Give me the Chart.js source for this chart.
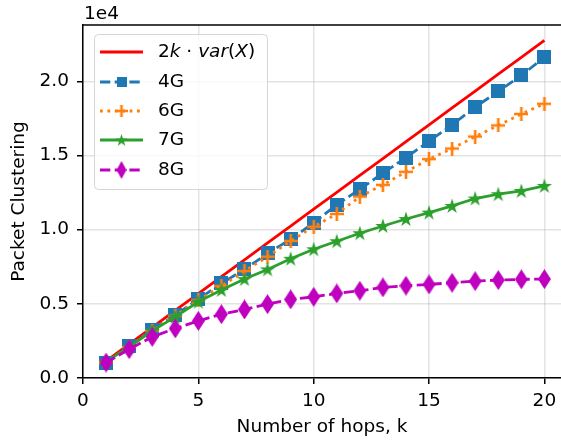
<!DOCTYPE html>
<html>
<head>
<meta charset="utf-8">
<script src="https://cdn.jsdelivr.net/npm/chart.js@4.4.1/dist/chart.umd.min.js"></script>
<style>
  html, body { margin: 0; padding: 0; background: #fff; overflow: hidden; }
</style>
</head>
<body>
<canvas id="chart" width="561" height="444"></canvas>
<script>
// data (y in raw units, axis shows them x1e4)
const hops = [1, 2, 3, 4, 5, 6, 7, 8, 9, 10, 11, 12, 13, 14, 15, 16, 17, 18, 19, 20];
const bound = [1138, 2276, 3414, 4552, 5690, 6828, 7966, 9104, 10242, 11380,
               12518, 13656, 14794, 15932, 17070, 18208, 19346, 20484, 21622, 22760];
const g4 = [1010, 2140, 3240, 4240, 5320, 6380, 7320, 8400, 9350, 10470,
            11670, 12730, 13810, 14860, 15970, 17070, 18270, 19320, 20400, 21620];
const g6 = [1050, 2100, 3200, 4200, 5250, 6200, 7210, 8180, 9240, 10200,
            11060, 12230, 13020, 13900, 14760, 15470, 16280, 17030, 17800, 18490];
const g7 = [1100, 2100, 3180, 4120, 5140, 5930, 6670, 7320, 8040, 8680,
            9220, 9760, 10250, 10720, 11150, 11600, 12100, 12390, 12610, 12950];
const g8 = [1040, 1940, 2770, 3340, 3850, 4300, 4620, 4980, 5300, 5470,
            5700, 5880, 6110, 6220, 6310, 6420, 6530, 6600, 6650, 6670];
const xTicks = [0, 5, 10, 15, 20];
const yTicks = [0, 5000, 10000, 15000, 20000];

const FONT = 'DejaVu Sans';
const FS = 18.5;

// marker images (matplotlib-like shapes)
function marker(w, h, draw) {
    const c = document.createElement('canvas');
    c.width = w; c.height = h;
    draw(c.getContext('2d'), w, h);
    return c;
}
const square = (s, col) => marker(s, s, (ctx) => { ctx.fillStyle = col; ctx.fillRect(0, 0, s, s); });
const plus = (s, col) => marker(s, s, (ctx) => {
    ctx.strokeStyle = col; ctx.lineWidth = 2.6;
    ctx.beginPath();
    ctx.moveTo(s / 2, 0); ctx.lineTo(s / 2, s);
    ctx.moveTo(0, s / 2); ctx.lineTo(s, s / 2);
    ctx.stroke();
});
const star = (s, col) => marker(s, s, (ctx) => {
    const R = s / 2, r = R * 0.382;
    ctx.fillStyle = col;
    ctx.beginPath();
    for (let i = 0; i < 10; i++) {
        const a = -Math.PI / 2 + i * Math.PI / 5;
        const rr = i % 2 ? r : R;
        ctx.lineTo(R + rr * Math.cos(a), R + 0.5 + rr * Math.sin(a));
    }
    ctx.closePath();
    ctx.fill();
});
const diamond = (w, h, col) => marker(w, h, (ctx) => {
    ctx.fillStyle = col;
    ctx.beginPath();
    ctx.moveTo(w / 2, 0); ctx.lineTo(w, h / 2); ctx.lineTo(w / 2, h); ctx.lineTo(0, h / 2);
    ctx.closePath();
    ctx.fill();
});

const BLUE = '#1f77b4', ORANGE = '#ff7f0e', GREEN = '#2ca02c', MAG = '#bf00bf';

const pts = (arr) => hops.map((k, i) => ({ x: k, y: arr[i] }));

const datasets = [
    { label: 'bound', data: pts(bound), borderColor: '#ff0000', borderWidth: 2.8, pointRadius: 0, order: 5 },
    { label: '4G', data: pts(g4), borderColor: BLUE, borderWidth: 2.8, borderDash: [10.3, 4.4],
      pointStyle: square(14, BLUE), pointRadius: 7, order: 4, legendMarker: square(10, BLUE) },
    { label: '6G', data: pts(g6), borderColor: ORANGE, borderWidth: 2.8, borderDash: [2.8, 4.6],
      pointStyle: plus(14, ORANGE), pointRadius: 7, order: 3, legendMarker: plus(12, ORANGE) },
    { label: '7G', data: pts(g7), borderColor: GREEN, borderWidth: 2.8,
      pointStyle: star(16, GREEN), pointRadius: 7, order: 2, legendMarker: star(13, GREEN) },
    { label: '8G', data: pts(g8), borderColor: MAG, borderWidth: 2.8, borderDash: [10.3, 4.4],
      pointStyle: diamond(13, 20, MAG), pointRadius: 7, order: 1, legendMarker: diamond(10, 18, MAG) }
];

// top spine, "1e4" offset label and the legend box
const decor = {
    id: 'decor',
    afterDraw(chart) {
        const { ctx, chartArea: a } = chart;
        ctx.save();
        ctx.strokeStyle = '#000';
        ctx.lineWidth = 1.5;
        ctx.beginPath();
        ctx.moveTo(a.left - 0.75, a.top);
        ctx.lineTo(a.right, a.top);
        ctx.stroke();

        ctx.fillStyle = '#000';
        ctx.font = FS + 'px "' + FONT + '"';
        ctx.textBaseline = 'alphabetic';
        ctx.textAlign = 'left';
        ctx.fillText('1e4', 84, 19);

        // legend
        const bx = 94.5, by = 34.5, bw = 173, bh = 155, rad = 4;
        ctx.beginPath();
        ctx.roundRect(bx, by, bw, bh, rad);
        ctx.fillStyle = 'rgba(255,255,255,0.8)';
        ctx.fill();
        ctx.strokeStyle = '#d6d6d6';
        ctx.lineWidth = 1;
        ctx.stroke();

        const rows = [52, 82, 111, 140, 170];
        chart.data.datasets.forEach((ds, i) => {
            const y = rows[i];
            ctx.strokeStyle = ds.borderColor;
            ctx.lineWidth = ds.borderWidth;
            ctx.setLineDash(ds.borderDash || []);
            ctx.beginPath();
            ctx.moveTo(100, y);
            ctx.lineTo(143, y);
            ctx.stroke();
            ctx.setLineDash([]);
            if (ds.legendMarker) {
                const m = ds.legendMarker;
                ctx.drawImage(m, 121.5 - m.width / 2, y - m.height / 2);
            }
            ctx.fillStyle = '#000';
            ctx.textBaseline = 'middle';
            let x = 158;
            if (ds.label === 'bound') {
                const parts = [['2', ''], ['k', 'italic '], [' \u00b7 ', ''], ['var', 'italic '],
                               ['(', ''], ['X', 'italic '], [')', '']];
                parts.forEach(([t, st]) => {
                    ctx.font = st + FS + 'px "' + FONT + '"';
                    ctx.fillText(t, x, y);
                    x += ctx.measureText(t).width;
                });
            } else {
                ctx.font = FS + 'px "' + FONT + '"';
                ctx.fillText(ds.label, x, y);
            }
        });
        ctx.restore();
    }
};

Chart.defaults.font.family = FONT;
Chart.defaults.font.size = FS;
Chart.defaults.color = '#000';

new Chart(document.getElementById('chart'), {
    type: 'line',
    data: { datasets: datasets },
    options: {
        responsive: false,
        animation: false,
        devicePixelRatio: 1,
        layout: { autoPadding: false, padding: { top: 25, right: 0, bottom: 0, left: 0 } },
        plugins: { legend: { display: false }, tooltip: { enabled: false } },
        elements: { line: { tension: 0, fill: false } },
        scales: {
            x: {
                type: 'linear',
                min: 0,
                max: 20.72,
                afterBuildTicks: (s) => { s.ticks = xTicks.map(v => ({ value: v })); },
                afterFit: (s) => { s.height = 66; s.paddingLeft = 0; s.paddingRight = 0; },
                ticks: { padding: 6, font: { size: FS } },
                grid: { color: 'rgba(176,176,176,0.35)', lineWidth: 1.5, tickColor: '#000',
                        tickWidth: 1.5, tickLength: 6 },
                border: { color: '#000', width: 1.5 },
                title: { display: true, text: 'Number of hops, k', font: { size: FS },
                         padding: { top: 0, bottom: 6 } }
            },
            y: {
                type: 'linear',
                min: 0,
                max: 23800,
                afterBuildTicks: (s) => { s.ticks = yTicks.map(v => ({ value: v })); },
                afterFit: (s) => { s.width = 83; s.paddingTop = 0; s.paddingBottom = 0; },
                ticks: { padding: 8, font: { size: FS }, callback: (v) => (v / 1e4).toFixed(1) },
                grid: { color: 'rgba(176,176,176,0.35)', lineWidth: 1.5, tickColor: '#000',
                        tickWidth: 1.5, tickLength: 6 },
                border: { color: '#000', width: 1.5 },
                title: { display: true, text: 'Packet Clustering', font: { size: FS },
                         padding: { top: 8, bottom: 0 } }
            }
        }
    },
    plugins: [decor]
});
</script>
</body>
</html>
